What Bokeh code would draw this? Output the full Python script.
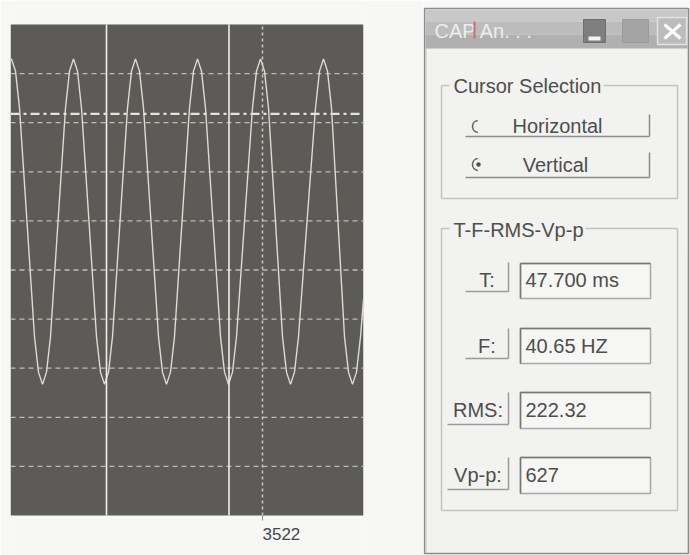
from bokeh.plotting import figure
from bokeh.models import Range1d
from bokeh.layouts import row
from bokeh.core.properties import value
from bokeh.embed import file_html
from bokeh.resources import INLINE

# ---------------- data ----------------
# waveform: sample index vs level (in screen divisions, 0..10)
wave_x = [3270, 3271,
          3275, 3279, 3286.5, 3294, 3298, 3302,
          3306, 3310, 3317.5, 3325, 3329, 3333,
          3337, 3341, 3348.5, 3356, 3360, 3364,
          3368, 3372, 3379.5, 3387, 3391, 3395,
          3399, 3403, 3410.5, 3418, 3422, 3426,
          3430, 3434, 3441.5, 3449, 3453, 3457,
          3461, 3465, 3472.5, 3480, 3484, 3488,
          3492, 3496, 3504, 3512, 3516, 3520,
          3524, 3528, 3535, 3542, 3546, 3550,
          3554, 3558, 3566.5, 3575, 3579, 3583,
          3587, 3591, 3597.5, 3604, 3608, 3612,
          3616, 3620, 3623]
wave_y = [9.28, 9.30,
          9.05, 8.30, 5.98, 3.64, 2.92, 2.67,
          2.92, 3.64, 5.98, 8.30, 9.05, 9.30,
          9.05, 8.30, 5.98, 3.64, 2.92, 2.67,
          2.92, 3.64, 5.98, 8.30, 9.05, 9.30,
          9.05, 8.30, 5.98, 3.64, 2.92, 2.67,
          2.92, 3.64, 5.98, 8.30, 9.05, 9.30,
          9.05, 8.30, 5.98, 3.64, 2.92, 2.67,
          2.92, 3.64, 5.98, 8.30, 9.05, 9.30,
          9.05, 8.30, 5.98, 3.64, 2.92, 2.67,
          2.92, 3.64, 5.98, 8.30, 9.05, 9.30,
          9.05, 8.30, 5.98, 3.64, 2.92, 2.67,
          2.92, 3.64, 4.40]
x_start, x_end = 3270, 3623
level_min, level_max = 0, 10
grid_levels = [1, 2, 3, 4, 5, 6, 7, 8, 9]
x_tick = [3522]
x_tick_label = "3522"
vertical_cursors = [3366, 3488.5]
horizontal_cursor = 8.18

window_title = "CAP An. . ."
group1_title = "Cursor Selection"
radio_labels = ["Horizontal", "Vertical"]
group2_title = "T-F-RMS-Vp-p"
readout_labels = ["T:", "F:", "RMS:", "Vp-p:"]
readout_values = ["47.700 ms", "40.65 HZ", "222.32", "627"]

FONT = value("Liberation Sans")
PAGE = "#f7f7f6"
FACE = "#f2f2f0"
TXT = "#4e4e4e"

# ---------------- oscilloscope plot ----------------
# screen frame: scope area from y=24 (top) to y=515 (bottom) in a 555 px tall figure
H = 555
scope_top, scope_bot = 24, 515
px_per_div = (scope_bot - scope_top) / (level_max - level_min)
y_lo = level_min - (H - scope_bot) / px_per_div
y_hi = level_max + scope_top / px_per_div

p = figure(width=423, height=H, x_range=Range1d(x_start, x_end), y_range=Range1d(y_lo, y_hi),
           output_backend="svg", toolbar_location=None, x_axis_location=None,
           y_axis_location=None, min_border_left=10, min_border_right=60,
           min_border_top=0, min_border_bottom=0)
p.background_fill_color = PAGE
p.border_fill_color = PAGE
p.outline_line_color = None
p.grid.visible = False

# dark scope screen
p.quad(left=[x_start], right=[x_end], bottom=[level_min], top=[level_max],
       fill_color="#5c5b57", line_color=None)
# dashed horizontal grid
p.segment(x0=[x_start] * len(grid_levels), y0=grid_levels,
          x1=[x_end] * len(grid_levels), y1=grid_levels,
          line_color="#bdbdb8", line_dash="5 4", line_width=1.3)
# dotted vertical grid at the labelled sample
p.segment(x0=x_tick, y0=[level_min], x1=x_tick, y1=[level_max],
          line_color="#c9c9c4", line_dash="3 3", line_width=1.5)
# tick mark under the screen
p.segment(x0=x_tick, y0=[level_min], x1=x_tick, y1=[level_min - 5 / px_per_div],
          line_color="#8a8a8a", line_width=1)

p.line(wave_x, wave_y, line_color="#dcdcd4", line_width=1.4)

# cursors
p.segment(x0=vertical_cursors, y0=[level_min] * 2, x1=vertical_cursors, y1=[level_max] * 2,
          line_color="#eeeeea", line_width=1.6)
p.segment(x0=[x_start], y0=[horizontal_cursor], x1=[x_end], y1=[horizontal_cursor],
          line_color="#e4e4de", line_width=2.2, line_dash="9 4 3 4")

p.text(x=x_tick, y=[level_min - 18 / px_per_div], text=[x_tick_label], text_font=FONT,
       text_font_size="17px", text_color="#474747", text_align="left",
       text_baseline="middle")

# ---------------- dialog panel (screen-pixel coordinates) ----------------
q = figure(width=267, height=H, x_range=Range1d(423, 690), y_range=Range1d(H, 0),
           output_backend="svg", toolbar_location=None, x_axis_location=None,
           y_axis_location=None, min_border=0)
q.background_fill_color = PAGE
q.border_fill_color = PAGE
q.outline_line_color = None
q.grid.visible = False

# window body
q.quad(left=[424], right=[688], top=[8], bottom=[553], fill_color=FACE,
       line_color="#8c8c8c", line_width=1.6)
q.segment(x0=[425.5], y0=[9], x1=[425.5], y1=[552], line_color="#c4c4c4", line_width=1)
# title bar
q.quad(left=[425, 425, 425], right=[687, 687, 687], top=[9, 21, 34], bottom=[21, 34, 48],
       fill_color=["#c8c8c8", "#bcbcbc", "#b0b0b0"], line_color=None)
q.text(x=[434], y=[30], text=[window_title], text_font=FONT, text_font_size="20px",
       text_color="#ececec", text_baseline="middle", text_align="left")
q.segment(x0=[474], y0=[21], x1=[474], y1=[38], line_color="#c97070", line_width=2)
# minimize / maximize / close
q.quad(left=[583], right=[605], top=[19], bottom=[42], fill_color="#7e7e7e", line_color="#6e6e6e")
q.quad(left=[588], right=[600], top=[36], bottom=[40], fill_color="#f2f2f2", line_color=None)
q.quad(left=[622], right=[648], top=[19], bottom=[42], fill_color="#a4a4a4", line_color="#9a9a9a")
q.quad(left=[657], right=[686], top=[17], bottom=[44], fill_color="#bcbcbc",
       line_color="#e2e2e2", line_width=1.5)
q.segment(x0=[664, 680], y0=[24, 24], x1=[680, 664], y1=[38, 38], line_color="#ffffff", line_width=3)

# group boxes
gcol = "#c2c2c0"
q.segment(x0=[441, 677, 441, 441, 603], y0=[85, 85, 198, 85, 85],
          x1=[441, 677, 677, 449, 677], y1=[198, 198, 198, 85, 85], line_color=gcol, line_width=1.5)
q.segment(x0=[441, 677, 441, 441, 585], y0=[228, 228, 510, 228, 228],
          x1=[441, 677, 677, 449, 677], y1=[510, 510, 510, 228, 228], line_color=gcol, line_width=1.5)
q.text(x=[453, 453], y=[85, 229], text=[group1_title, group2_title], text_font=FONT,
       text_font_size="20px", text_color=TXT, text_baseline="middle", text_align="left")

# radio buttons
bcol = "#8c8c8c"
q.segment(x0=[465, 649, 465, 649], y0=[136, 114, 177, 152],
          x1=[649, 649, 649, 649], y1=[136, 136, 177, 177], line_color=bcol, line_width=1.5)
q.arc(x=[478, 478], y=[126, 164], radius=6, radius_units="screen",
      start_angle=1.7, end_angle=4.6, line_color="#666666", line_width=1.6)
q.scatter(x=[478], y=[164], size=4.5, fill_color="#505050", line_color=None)
q.text(x=[557, 555], y=[125, 164], text=radio_labels, text_font=FONT, text_font_size="20px",
       text_color=TXT, text_baseline="middle", text_align="center")

# readout rows
row_y = [279, 345, 409, 474]
btn_left = [465, 465, 447, 447]
btn_top = [262, 328, 392, 457]
btn_bot = [291, 358, 424, 489]
box_top = [263, 328, 392, 457]
box_bot = [298, 363, 428, 493]
q.segment(x0=btn_left + [508] * 4, y0=btn_bot + btn_top,
          x1=[508] * 4 + [508] * 4, y1=btn_bot + btn_bot, line_color="#9a9a9a", line_width=1.5)
q.quad(left=[520] * 4, right=[650] * 4, top=box_top, bottom=box_bot,
       fill_color="#f6f6f4", line_color="#a8a8a8", line_width=1.5)
q.segment(x0=[520] * 4 + [520] * 4, y0=box_top + box_top, x1=[650] * 4 + [520] * 4,
          y1=box_top + box_bot, line_color="#777777", line_width=1.5)
q.text(x=[(bl + 508) / 2 for bl in btn_left], y=row_y, text=readout_labels, text_font=FONT,
       text_font_size="20px", text_color=TXT, text_baseline="middle", text_align="center")
q.text(x=[525] * 4, y=row_y, text=readout_values, text_font=FONT, text_font_size="20px",
       text_color=TXT, text_baseline="middle", text_align="left")

layout = row(p, q)
open("out.html", "w").write(file_html(layout, INLINE))
